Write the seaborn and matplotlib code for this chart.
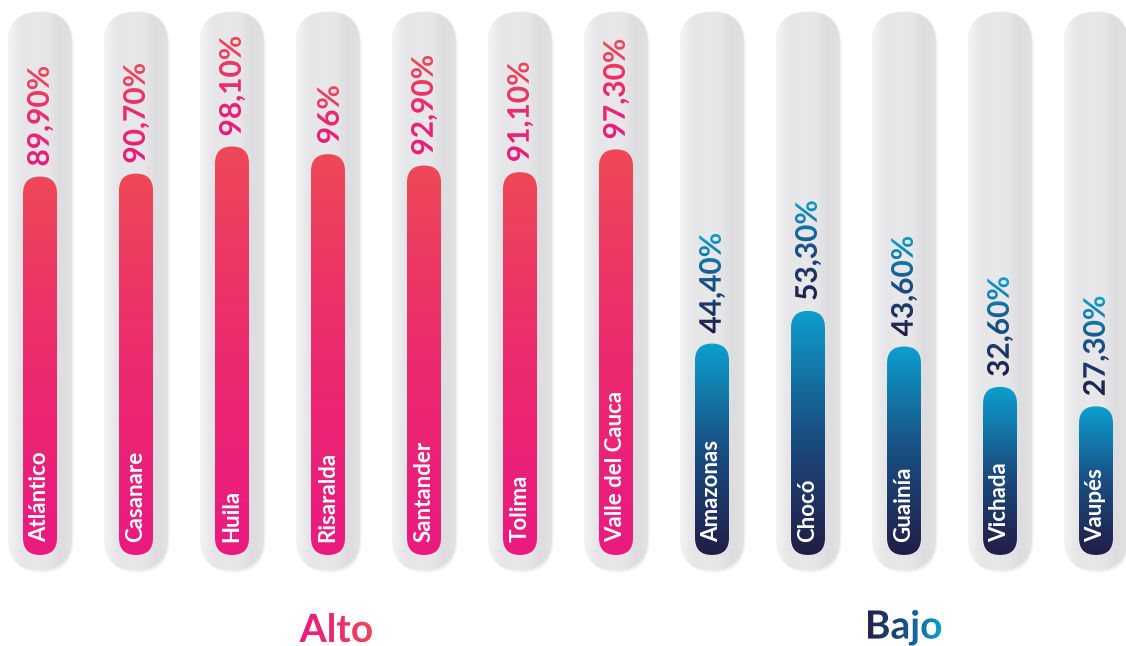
import numpy as np
import pandas as pd
import matplotlib
matplotlib.use("Agg")
import matplotlib.pyplot as plt
import seaborn as sns
from matplotlib.patches import FancyBboxPatch
from matplotlib.textpath import TextPath
from matplotlib.font_manager import FontProperties
from matplotlib.transforms import Affine2D
from matplotlib.colors import LinearSegmentedColormap

# ---------------- data ----------------
departamentos = ["Atlántico", "Casanare", "Huila", "Risaralda", "Santander", "Tolima",
                 "Valle del Cauca", "Amazonas", "Chocó", "Guainía", "Vichada", "Vaupés"]
porcentajes = [89.9, 90.7, 98.1, 96.0, 92.9, 91.1, 97.3, 44.4, 53.3, 43.6, 32.6, 27.3]
etiquetas = ["89,90%", "90,70%", "98,10%", "96%", "92,90%", "91,10%", "97,30%",
             "44,40%", "53,30%", "43,60%", "32,60%", "27,30%"]
grupos = ["Alto"] * 7 + ["Bajo"] * 5
nombres_grupo = ["Alto", "Bajo"]

# ---------------- style ----------------
sns.set_theme(style="white")
plt.rcParams["font.family"] = ["Lato", "DejaVu Sans"]

cmaps = {
    "Alto": LinearSegmentedColormap.from_list("alto", ["#EA1A80", "#EC2A6E", "#EF4858"]),
    "Bajo": LinearSegmentedColormap.from_list("bajo", ["#221D46", "#1A4E82", "#0C9FCD"]),
}
track_cmap = LinearSegmentedColormap.from_list(
    "track", ["#F4F4F5", "#E6E6E8", "#E8E8EA", "#E7E7E9", "#DDDDE0", "#E2E2E4"])

df = pd.DataFrame({"departamento": departamentos, "valor": porcentajes, "grupo": grupos})

fig = plt.figure(figsize=(11.26, 6.46), dpi=100)
ax = fig.add_axes([0, 0, 1, 1])
sns.barplot(data=df, x="departamento", y="valor", hue="grupo", order=departamentos,
            palette={"Alto": "#EC2A6E", "Bajo": "#1A4E82"}, dodge=False, width=0.354,
            legend=False, ax=ax)
ax.set_xlim(-0.4167, 11.3125)
ax.set_ylim(-38.0, 138.0)
ax.set_autoscale_on(False)
ax.axis("off")

fig.canvas.draw()
pxx = ax.transData.transform((1, 0))[0] - ax.transData.transform((0, 0))[0]
pxy = ax.transData.transform((0, 1))[1] - ax.transData.transform((0, 0))[1]
MA = pxx / pxy

TRACK_W = 0.667
TRACK_BOT, TRACK_TOP = -17.3, 134.8
BAR_BOT = -13.2


def pill(x0, y0, w, h, **kw):
    p = FancyBboxPatch((x0, y0), w, h,
                       boxstyle=f"round,pad=0,rounding_size={w / 2}",
                       mutation_aspect=MA, transform=ax.transData, **kw)
    return p


def gradient_fill(patch, extent, cmap, vertical=True, z=2):
    n = 256
    g = np.linspace(0, 1, n)
    arr = g.reshape(n, 1) if vertical else g.reshape(1, n)
    im = ax.imshow(arr, extent=extent, origin="lower", cmap=cmap, aspect="auto",
                   interpolation="bicubic", zorder=z)
    im.set_clip_path(patch)
    return im


# tracks
for i in range(len(departamentos)):
    x0 = i - TRACK_W / 2
    sh = pill(x0 + 0.015, TRACK_BOT - 0.6, TRACK_W, TRACK_TOP - TRACK_BOT,
              facecolor="#D4D4D7", edgecolor="none", alpha=0.35, zorder=0.5)
    ax.add_patch(sh)
    tr = pill(x0, TRACK_BOT, TRACK_W, TRACK_TOP - TRACK_BOT,
              facecolor="#E6E6E8", edgecolor="none", zorder=1)
    ax.add_patch(tr)
    gradient_fill(tr, [x0, x0 + TRACK_W, TRACK_BOT, TRACK_TOP], track_cmap,
                  vertical=False, z=1.5)

# bars: restyle seaborn's bars as rounded gradient pills
for p in list(ax.patches):
    if isinstance(p, FancyBboxPatch) or not hasattr(p, "get_width"):
        continue
    w = p.get_width()
    xc = p.get_x() + w / 2
    i = int(round(xc))
    top = p.get_y() + p.get_height()
    p.set_visible(False)
    b = pill(xc - w / 2, BAR_BOT, w, top - BAR_BOT, facecolor="none",
             edgecolor="none", zorder=2)
    ax.add_patch(b)
    gradient_fill(b, [xc - w / 2, xc + w / 2, BAR_BOT, top], cmaps[grupos[i]],
                  vertical=True, z=2)


def gradient_text(s, x, y, size, cmap, rotation=90, dy_px=0.0, weight="bold",
                  anchor="bottom", z=5):
    fp = FontProperties(family="Lato", weight=weight)
    tp = TextPath((0, 0), s, size=size, prop=fp)
    sc = fig.dpi / 72.0
    base = Affine2D().rotate_deg(rotation).scale(sc)
    v = base.transform(tp.vertices)
    xmin, ymin = v.min(0)
    xmax, ymax = v.max(0)
    ax_x, ax_y = ax.transData.transform((x, y))
    tx = ax_x - (xmin + xmax) / 2
    if anchor == "bottom":
        ty = ax_y + dy_px - ymin
    else:
        ty = ax_y + dy_px - (ymin + ymax) / 2
    trans = base + Affine2D().translate(tx, ty)
    inv = ax.transData.inverted()
    (dx0, dy0) = inv.transform((xmin + tx, ymin + ty))
    (dx1, dy1) = inv.transform((xmax + tx, ymax + ty))
    n = 256
    g = np.linspace(0, 1, n)
    arr = g.reshape(n, 1) if rotation == 90 else g.reshape(1, n)
    im = ax.imshow(arr, extent=[dx0, dx1, dy0, dy1], origin="lower", cmap=cmap,
                   aspect="auto", interpolation="bicubic", zorder=z)
    im.set_clip_path(tp, trans)


# value labels
for i, (val, lab) in enumerate(zip(porcentajes, etiquetas)):
    gradient_text(lab, i, val, 21.5, cmaps[grupos[i]], rotation=90, dy_px=10)

# name labels inside bars
for i, name in enumerate(departamentos):
    ax.annotate(name, xy=(i, BAR_BOT), xytext=(0, 9), textcoords="offset points",
                rotation=90, ha="center", va="bottom", color="white",
                fontsize=16, fontweight="bold", zorder=6)

# group labels
for g, xc in zip(nombres_grupo, [3.08, 8.99]):
    gradient_text(g, xc, -33.0, 28, cmaps[g], rotation=0, anchor="center")

fig.savefig("out.png", dpi=100)
